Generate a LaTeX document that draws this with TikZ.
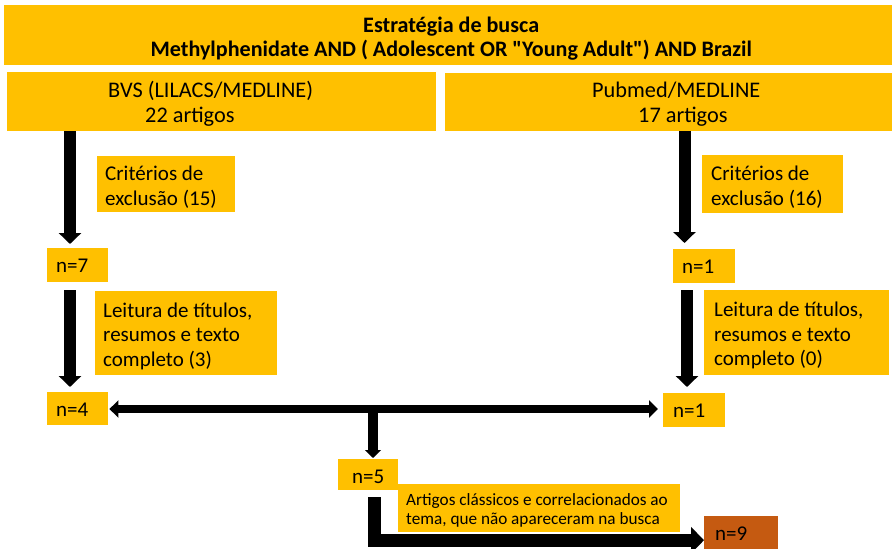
\documentclass[tikz,border=0pt]{standalone}
\usepackage{fontspec}
\setmainfont{Carlito}[Ligatures=TeXOff]
\usetikzlibrary{arrows.meta}
\definecolor{ygold}{HTML}{FFC000}
\definecolor{rust}{HTML}{C55A11}
\begin{document}
\begin{tikzpicture}[x=1pt,y=-1pt,
  box/.style={fill=ygold, draw=none, inner sep=0pt, anchor=north west},
  txt/.style={inner sep=0pt, text=black, align=left},
  body/.style={font=\fontsize{21}{24.5}\selectfont},
  top/.style={font=\fontsize{22.3}{25}\selectfont},
  small/.style={font=\fontsize{17.2}{18.5}\selectfont},
  bigarrow/.style={draw=black, line width=12pt, -{Triangle[length=11pt,width=22pt]}},
  midarrow/.style={draw=black, line width=10pt, -{Triangle[length=8pt,width=16pt]}},
  dblarrow/.style={draw=black, line width=8pt, {Triangle[length=9pt,width=17pt]}-{Triangle[length=9pt,width=17pt]}},
  elbowarrow/.style={draw=black, line width=13pt, -{Triangle[length=13pt,width=26pt]}}
]
\useasboundingbox (0,0) rectangle (892,549);

% header
\node[box, minimum width=888pt, minimum height=60pt] (head) at (4,5) {};
\node[txt, align=center, font=\bfseries\fontsize{22.1}{24}\selectfont] (headt)
  at ([xshift=3pt,yshift=-3.5pt]head.center)
  {Estratégia de busca\\Methylphenidate AND ( Adolescent OR "Young Adult") AND Brazil};

% source boxes
\node[box, minimum width=429pt, minimum height=59pt] (bvs) at (7,72) {};
\node[txt, top, anchor=west] (bvst) at (108,104)
  {BVS (LILACS/MEDLINE)\\\hspace*{37pt}22 artigos};
\node[box, minimum width=447pt, minimum height=58pt] (pub) at (445,73) {};
\node[txt, top, anchor=west] (pubt) at (592,104)
  {Pubmed/MEDLINE\\\hspace*{46pt}17 artigos};

% left column
\node[box, minimum width=138pt, minimum height=56pt] (crit1) at (97,156) {};
\node[txt, body, anchor=west] (crit1t) at ([xshift=8pt,yshift=-3pt]crit1.west)
  {Critérios de\\exclusão (15)};
\node[box, minimum width=61pt, minimum height=34pt] (n7) at (47,248) {};
\node[txt, body, anchor=west] (n7t) at ([xshift=9pt,yshift=-1pt]n7.west) {n=7};
\node[box, minimum width=182pt, minimum height=84pt] (leit1) at (95,291) {};
\node[txt, body, anchor=west] (leit1t) at ([xshift=8pt,yshift=-3pt]leit1.west)
  {Leitura de títulos,\\resumos e texto\\completo (3)};
\node[box, minimum width=61pt, minimum height=33pt] (n4) at (47,392) {};
\node[txt, body, anchor=west] (n4t) at ([xshift=9pt,yshift=-1pt]n4.west) {n=4};

% right column
\node[box, minimum width=141pt, minimum height=58pt] (crit2) at (702,155) {};
\node[txt, body, anchor=west] (crit2t) at ([xshift=9pt,yshift=-3pt]crit2.west)
  {Critérios de\\exclusão (16)};
\node[box, minimum width=62pt, minimum height=34pt] (n1a) at (673,249) {};
\node[txt, body, anchor=west] (n1at) at ([xshift=9pt,yshift=-1pt]n1a.west) {n=1};
\node[box, minimum width=185pt, minimum height=85pt] (leit2) at (704,290) {};
\node[txt, body, anchor=west] (leit2t) at ([xshift=10pt,yshift=-3pt]leit2.west)
  {Leitura de títulos,\\resumos e texto\\completo (0)};
\node[box, minimum width=62pt, minimum height=34pt] (n1b) at (663,393) {};
\node[txt, body, anchor=west] (n1bt) at ([xshift=10pt,yshift=-1pt]n1b.west) {n=1};

% bottom
\node[box, minimum width=60pt, minimum height=31pt] (n5) at (338,459) {};
\node[txt, body, anchor=west] (n5t) at ([xshift=14pt,yshift=-2pt]n5.west) {n=5};
\node[box, minimum width=282pt, minimum height=48pt] (art) at (398,484) {};
\node[txt, small, anchor=west] (artt) at ([xshift=8pt,yshift=-2pt]art.west)
  {Artigos clássicos e correlacionados ao\\tema, que não apareceram na busca};
\node[box, fill=rust, minimum width=74pt, minimum height=33pt] (n9) at (704,516) {};
\node[txt, body, anchor=west] (n9t) at ([xshift=11pt,yshift=-1pt]n9.west) {n=9};

% connectors
\coordinate (lx) at (70,0);
\coordinate (rx1) at (684.5,0);
\coordinate (rx2) at (687,0);
\coordinate (mx) at (373,0);
\coordinate (ex) at (374,0);

\draw[bigarrow] (bvs.south -| lx) -- ([yshift=4pt]n7.north -| lx);
\draw[bigarrow] ([yshift=-8pt]n7.south -| lx) -- ([yshift=5pt]n4.north -| lx);
\draw[bigarrow] (pub.south -| rx1) -- ([yshift=6pt]n1a.north -| rx1);
\draw[bigarrow] ([yshift=-7pt]n1a.south -| rx2) -- ([yshift=6pt]n1b.north -| rx2);

\coordinate (hy) at (0,409);
\draw[dblarrow] ([xshift=1pt]n4.east |- hy) -- ([xshift=-5pt]n1b.west |- hy);
\draw[midarrow] (mx |- hy) -- ([yshift=1pt]n5.north -| mx);
\draw[elbowarrow] ([yshift=-7pt]n5.south -| ex) |- ([yshift=-7.5pt]n9.west);
\end{tikzpicture}
\end{document}
